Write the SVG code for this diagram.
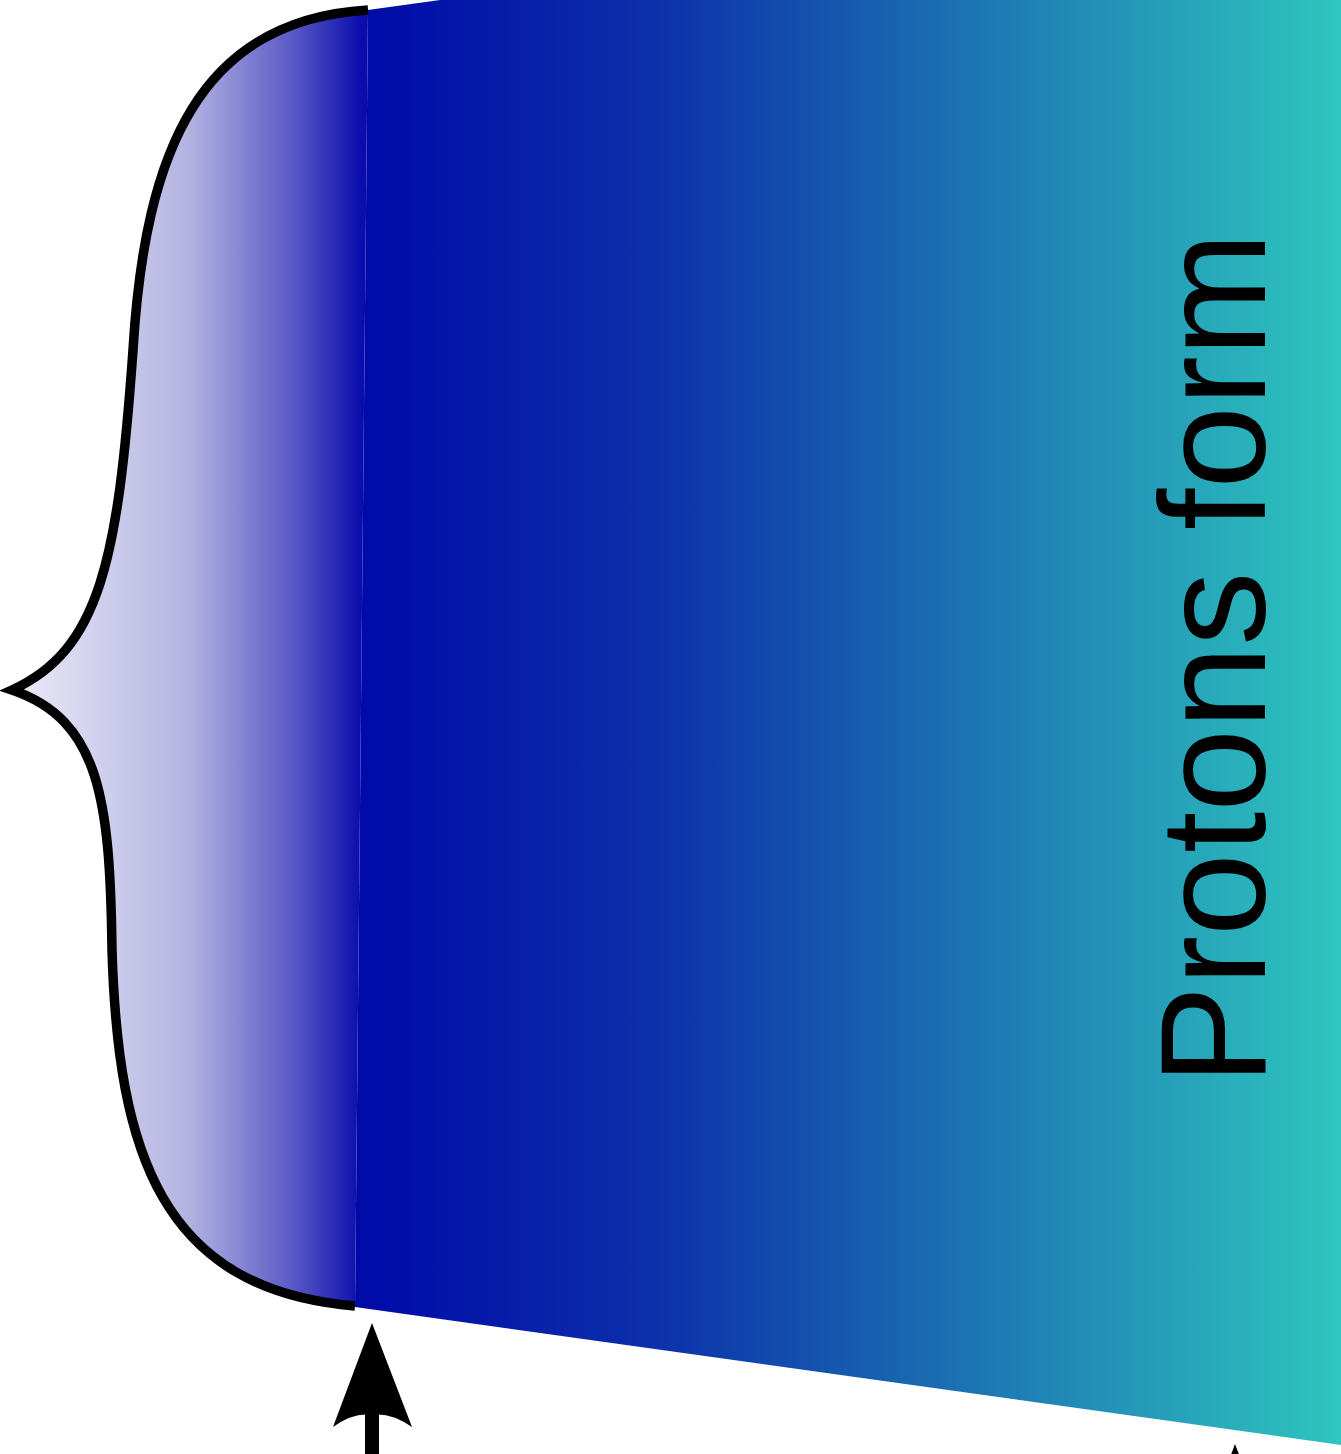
<svg xmlns="http://www.w3.org/2000/svg" width="1341" height="1454" viewBox="0 0 1341 1454">
  <defs>
    <linearGradient id="band" gradientUnits="userSpaceOnUse" x1="360" y1="0" x2="1341" y2="0">
      <stop offset="0" stop-color="#000aa8"/>
      <stop offset="0.3" stop-color="#0c30aa"/>
      <stop offset="0.6" stop-color="#1b6fb2"/>
      <stop offset="1" stop-color="#2ec6be"/>
    </linearGradient>
    <linearGradient id="braceFill" gradientUnits="userSpaceOnUse" x1="12" y1="0" x2="362" y2="0">
      <stop offset="0" stop-color="#ececf8"/>
      <stop offset="0.5" stop-color="#b4b4e2"/>
      <stop offset="0.8" stop-color="#5a5ac6"/>
      <stop offset="1" stop-color="#0a0cac"/>
    </linearGradient>
    <style>
      .brace { fill: none; stroke: #000; stroke-width: 9.5; stroke-linejoin: miter; }
      .arrow { fill: #000; }
      .label { font-family: "Liberation Sans", "DejaVu Sans", sans-serif; font-size: 150px; fill: #000; }
    </style>
  </defs>
  <rect width="1341" height="1454" fill="#fff"/>
  <g id="band-region">
    <path d="M368,10 L440,0 L1341,0 L1341,1445 L355,1307 Z" fill="url(#band)"/>
  </g>
  <g id="brace-region">
    <path d="M368,10 C200,20 145,150 133,350 C118,560 100,650 12,690 C100,720 110,800 112,950 C118,1150 160,1290 355,1306 Z" fill="url(#braceFill)"/>
    <path class="brace" d="M368,10 C200,20 145,150 133,350 C118,560 100,650 12,690 C100,720 110,800 112,950 C118,1150 160,1290 355,1306"/>
  </g>
  <g id="label">
    <text class="label" transform="translate(1265,1085) rotate(-90)" textLength="853" lengthAdjust="spacingAndGlyphs">Protons form</text>
  </g>
  <g id="connectors">
    <g id="arrow1">
      <rect class="arrow" x="365" y="1410" width="14" height="44"/>
      <path class="arrow" d="M372,1323 L412,1427 Q390,1412 372,1415 Q354,1412 333,1427 Z"/>
    </g>
    <g id="arrow2">
      <path class="arrow" d="M1235,1444 L1275,1548 Q1253,1533 1235,1536 Q1217,1533 1196,1548 Z"/>
    </g>
  </g>
</svg>
